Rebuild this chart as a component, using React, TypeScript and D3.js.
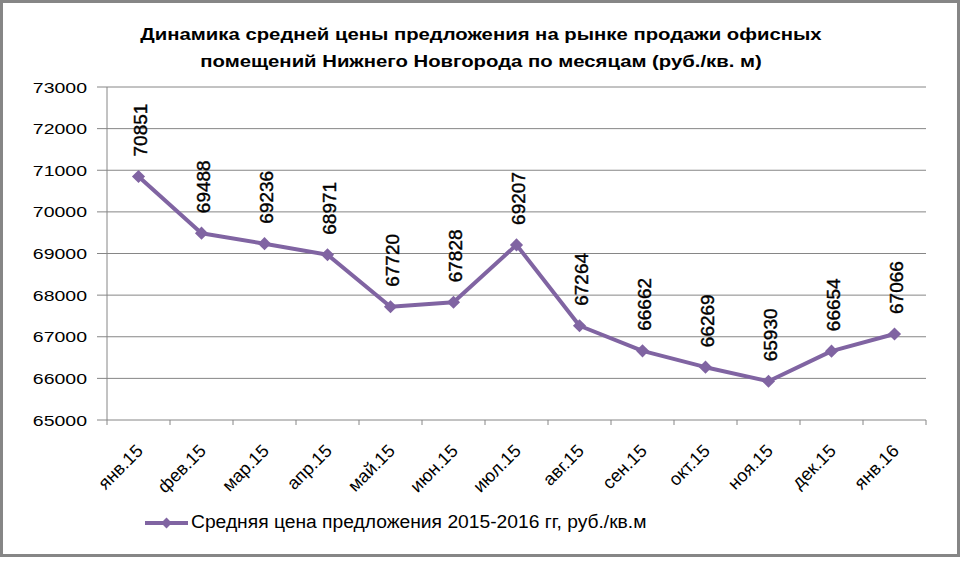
import * as d3 from 'd3';
import React from 'react';

// chart data
const months = ['янв.15', 'фев.15', 'мар.15', 'апр.15', 'май.15', 'июн.15', 'июл.15', 'авг.15', 'сен.15', 'окт.15', 'ноя.15', 'дек.15', 'янв.16'];
const prices = [70851, 69488, 69236, 68971, 67720, 67828, 69207, 67264, 66662, 66269, 65930, 66654, 67066];
const yTicks = [65000, 66000, 67000, 68000, 69000, 70000, 71000, 72000, 73000];
const titleLines = ['Динамика средней цены предложения на рынке продажи офисных', 'помещений Нижнего Новгорода по месяцам (руб./кв. м)'];
const seriesName = 'Средняя цена предложения 2015-2016 гг, руб./кв.м';

const W = 962;
const H = 564;
const FONT = '"Liberation Sans", Arial, sans-serif';
const LINE = '#8064A2';
const GRID = '#868686';

function App() {
  const left = 107, right = 926, top = 87, bottom = 420;

  const x = d3.scaleBand<string>().domain(months).range([left, right]);
  const y = d3.scaleLinear().domain([65000, 73000]).range([bottom, top]);
  const cxOf = (i: number) => x(months[i])! + x.bandwidth() / 2;

  const line = d3.line<number>()
    .x((d, i) => cxOf(i))
    .y(d => y(d));

  const marker = d3.symbol().type(d3.symbolDiamond2).size(110)();
  const legendMarker = d3.symbol().type(d3.symbolDiamond2).size(75)();

  const boundaries = d3.range(months.length + 1).map(i => left + i * x.step());

  return (
    <svg width={W} height={H} style={{ position: 'absolute', left: 0, top: 0, background: '#fff' }}>
      <rect x={1.5} y={1.5} width={957} height={554} fill="#fff" stroke={GRID} strokeWidth={3} />

      {/* title (source picture is stretched horizontally) */}
      <g fontFamily={FONT} fontWeight="bold" fontSize={16} textAnchor="middle" fill="#000">
        {titleLines.map((t, i) => (
          <text key={i} transform={`translate(481,${40 + i * 27}) scale(1.27,1)`}>{t}</text>
        ))}
      </g>

      {/* grid + y axis */}
      {yTicks.map(t => (
        <g key={t}>
          <line x1={left - 10} x2={right} y1={y(t)} y2={y(t)} stroke={GRID} strokeWidth={1} />
          <text transform={`translate(87,${y(t) + 5.5}) scale(1.3,1)`} textAnchor="end" fontFamily={FONT} fontSize={15} fill="#000">{t}</text>
        </g>
      ))}
      <line x1={left} x2={left} y1={top} y2={bottom} stroke={GRID} strokeWidth={1} />

      {/* x axis ticks + labels */}
      {boundaries.map((b, i) => (
        <line key={i} x1={b} x2={b} y1={bottom} y2={bottom + 5} stroke={GRID} strokeWidth={1} />
      ))}
      {months.map((m, i) => (
        <text key={m} transform={`translate(${cxOf(i) + 5.5},${bottom + 32}) rotate(-45)`} textAnchor="end"
          fontFamily={FONT} fontSize={18} fill="#000">{m}</text>
      ))}

      {/* series */}
      <path d={line(prices)!} fill="none" stroke={LINE} strokeWidth={4} strokeLinejoin="round" />
      {prices.map((v, i) => (
        <g key={i}>
          <path d={marker} transform={`translate(${cxOf(i)},${y(v)})`} fill={LINE} />
          <text transform={`translate(${cxOf(i) + 8},${y(v) - 20}) rotate(-90)`} fontFamily={FONT}
            fontSize={19} fill="#000" stroke="#000" strokeWidth={0.4}>{v}</text>
        </g>
      ))}

      {/* legend */}
      <line x1={145} x2={188} y1={523} y2={523} stroke={LINE} strokeWidth={4} />
      <path d={legendMarker} transform="translate(166.5,523)" fill={LINE} />
      <text transform="translate(191,528) scale(1.07,1)" fontFamily={FONT} fontSize={18} fill="#000">{seriesName}</text>
    </svg>
  );
}

export default App;
